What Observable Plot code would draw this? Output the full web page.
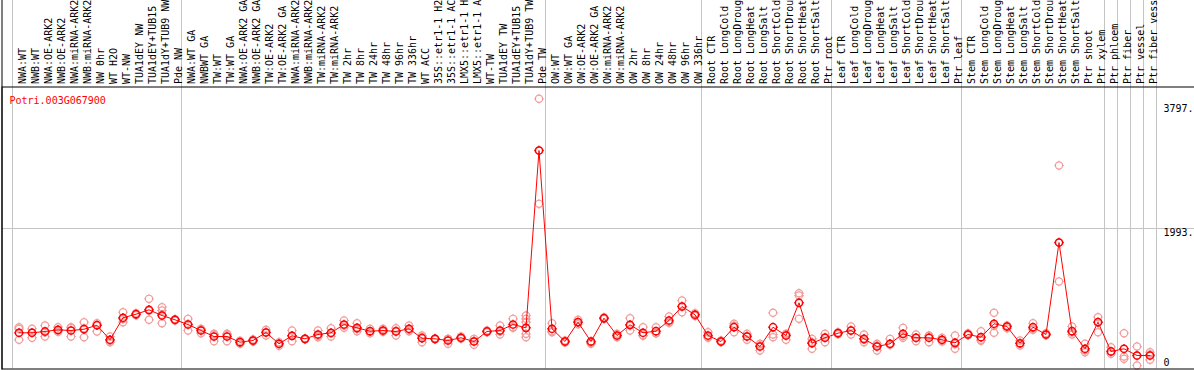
<!DOCTYPE html>
<html><head><meta charset="utf-8">
<script src="https://cdn.jsdelivr.net/npm/d3@7"></script>
<script src="https://cdn.jsdelivr.net/npm/@observablehq/plot@0.6"></script>
<style>body{margin:0;background:#fff} svg{display:block}</style>
</head><body><div id="chart"></div>
<script>
const geneId = "Potri.003G067900";
const samples = [
  "NWA:WT","NWB:WT","NWA:OE-ARK2","NWB:OE-ARK2","NWA:miRNA-ARK2","NWB:miRNA-ARK2","NW 0hr","WT H2O","WT-NW","TUA1dEY NW","TUA1dEY+TUB15","TUA1dY+TUB9 NW","Pde NW",
  "NWA:WT GA","NWBWT GA","TW:WT","TW:WT GA","NWA:OE-ARK2 GA","NWB:OE-ARK2 GA","TW:OE-ARK2","TW:OE-ARK2 GA","NWA:miRNA-ARK2","NWB:miRNA-ARK2","TW:miRNA-ARK2","TW:miRNA-ARK2","TW 2hr","TW 8hr","TW 24hr","TW 48hr","TW 96hr","TW 336hr","WT ACC","35S::etr1-1 H2","35S::etr1-1 AC","LMX5::etr1-1 H","LMX5::etr1-1 A","WT-TW","TUA1dEY TW","TUA1dEY+TUB15","TUA1dY+TUB9 TW","Pde TW",
  "OW:WT","OW:WT GA","OW:OE-ARK2","OW:OE-ARK2 GA","OW:miRNA-ARK2","OW:miRNA-ARK2","OW 2hr","OW 8hr","OW 24hr","OW 48hr","OW 96hr","OW 336hr",
  "Root CTR","Root LongCold","Root LongDroug","Root LongHeat","Root LongSalt","Root ShortCold","Root ShortDrou","Root ShortHeat","Root ShortSalt","Ptr root",
  "Leaf CTR","Leaf LongCold","Leaf LongDroug","Leaf LongHeat","Leaf LongSalt","Leaf ShortCold","Leaf ShortDrou","Leaf ShortHeat","Leaf ShortSalt","Ptr leaf",
  "Stem CTR","Stem LongCold","Stem LongDroug","Stem LongHeat","Stem LongSalt","Stem ShortCold","Stem ShortDrou","Stem ShortHeat","Stem ShortSalt","Ptr shoot","Ptr xylem",
  "Ptr phloem","Ptr fiber","Ptr vessel","Ptr fiber vess"
];
const means = [
  476,476,495,519,509,528,586,374,694,746,
  810,727,665,596,509,422,422,339,364,480,
  316,432,388,451,476,596,548,499,509,495,
  534,397,388,364,403,349,495,509,596,548,
  3128,534,349,630,349,688,436,592,476,499,
  655,858,738,436,349,557,422,276,557,436,
  912,324,403,470,509,388,276,316,461,403,
  403,374,330,451,412,607,567,324,557,451,
  1789,499,243,630,204,243,145,145
];
const reps = [
  [557,534,374],[534,480,403],[582,484,422],[557,509,490],[557,548,422],[630,542,412],[615,586,495],[422,361,339],[775,677,630],[760,746,732],
  [970,795,665],[848,800,740,615],[675,665,655],[679,600,509],[534,520,470],[461,450,354],[461,450,354],[360,339,316],[380,364,349],[519,485,436],
  [340,316,287],[509,432,354],[395,388,380],[509,432,412],[543,465,422],[655,582,550],[615,530,499],[534,495,470],[534,500,490],[543,505,436],
  [582,520,499],[436,415,339],[395,388,380],[388,388,316],[422,400,390],[388,358,301],[509,495,485],[582,495,451],[679,557,550],[727,679,630,461,412],
  [3880,3128,2352],[615,500,485],[364,349,335],[665,630,600],[349,330,316],[703,688,675],[461,436,412],[688,580,509],[557,436,435],[557,470,470],
  [713,630,620],[946,858,775],[761,738,720],[485,420,403],[364,349,340],[607,580,485],[461,430,374],[316,290,218],[767,451,412],[461,436,374],
  [1052,1018,679],[388,340,243],[461,410,339],[485,470,455],[567,509,451],[451,375,339],[316,290,218],[388,316,300],[548,430,403],[451,403,354],
  [436,430,339],[403,370,349],[436,310,243],[470,451,440],[499,360,374],[767,578,476],[582,567,540],[364,317,291],[615,537,519],[470,451,440],
  [2910,1789,1222],[567,480,451],[316,220,193],[703,630,485],[266,204,170],[470,131,97],[276,145,0],[193,160,83]
];
const yTicks = [0, 1993, 3797];
const yTickLabels = ["0", "1993.", "3797."];
const groupBreaks = [-0.5, 12.5, 40.5, 52.5, 62.5, 72.5, 83.5, 84.5, 85.5, 86.5, 87.5];

const meanData = means.map((v, i) => ({i, v, label: samples[i]}));
const repData = reps.flatMap((arr, i) => arr.map(v => ({i, v})));
const tickData = yTicks.map((v, k) => ({v, label: yTickLabels[k]}));

const tickedCircle = {
  draw(ctx, size) {
    const r = Math.sqrt(size / Math.PI), t = 1.2;
    ctx.moveTo(r, 0); ctx.arc(0, 0, r, 0, 2 * Math.PI);
    ctx.moveTo(0, -r); ctx.lineTo(0, -r - t);
    ctx.moveTo(0, r); ctx.lineTo(0, r + t);
    ctx.moveTo(-r, 0); ctx.lineTo(-r - t, 0);
    ctx.moveTo(r, 0); ctx.lineTo(r + t, 0);
  }
};

const chart = Plot.plot({
  width: 1194, height: 370,
  marginLeft: 1.5, marginRight: 0, marginTop: 86.5, marginBottom: 1.5,
  x: {type: "linear", domain: [-0.5, 87.5], range: [12, 1156], axis: null},
  y: {domain: [-51, 4052], range: [368.5, 86.5], axis: null},
  style: {fontFamily: "'DejaVu Sans Mono', monospace", fontSize: "10px", background: "#fff", color: "black"},
  marks: [
    Plot.ruleX(groupBreaks, {stroke: "#c4c4c4", insetTop: -87}),
    Plot.ruleY([1993], {stroke: "#c4c4c4"}),
    Plot.dot(repData, {x: "i", y: "v", symbol: tickedCircle, r: 3.6, stroke: "#f29a9a", strokeWidth: 1.2}),
    Plot.line(meanData, {x: "i", y: "v", stroke: "#ff0000", strokeWidth: 1}),
    Plot.dot(meanData, {x: "i", y: "v", symbol: tickedCircle, r: 3.6, stroke: "#ff0000", strokeWidth: 1.5}),
    Plot.text(meanData, {x: "i", text: "label", frameAnchor: "top", rotate: -90, textAnchor: "start", dy: -3, fill: "black"}),
    Plot.text([geneId], {text: d => d, frameAnchor: "top-left", dx: 7.5, dy: 10, textAnchor: "start", fill: "#ff0000"}),
    Plot.text(tickData.filter(d => d.v !== 0), {y: "v", text: "label", frameAnchor: "right", dx: -31, dy: 4, textAnchor: "start", fill: "black"}),
    Plot.text(tickData.filter(d => d.v === 0), {y: "v", text: "label", frameAnchor: "right", dx: -31, dy: -3, textAnchor: "start", fill: "black"}),
    Plot.frame({stroke: "black"}),
    Plot.frame({anchor: "left", stroke: "black", insetTop: -87})
  ]
});
document.getElementById("chart").appendChild(chart);
</script>
</body></html>
